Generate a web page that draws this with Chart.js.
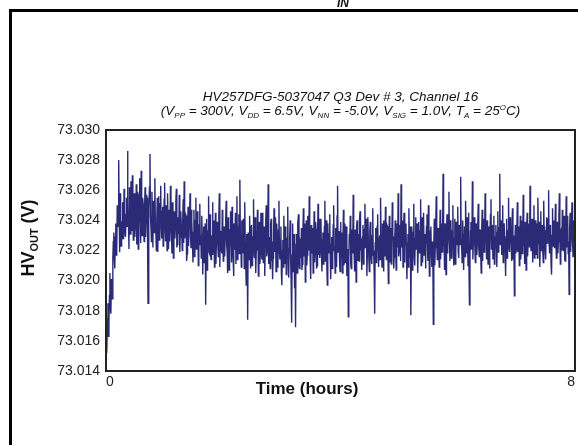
<!DOCTYPE html>
<html>
<head>
<meta charset="utf-8">
<script src="https://cdn.jsdelivr.net/npm/chart.js@4.4.1/dist/chart.umd.min.js"></script>
<style>
  body { margin: 0; background: #fff; }
  canvas { display: block; }
</style>
</head>
<body>
<canvas id="hvChart" width="578" height="445"></canvas>
<script>
// HV_OUT readings, one sample every 30 s over 8 hours (volts)
const hvOut = [
  73.0168, 73.0160, 73.0152, 73.0175, 73.0185, 73.0163, 73.0171, 73.0190, 73.0205, 73.0182, 73.0178, 73.0201, 73.0196, 73.0188, 73.0215, 73.0226, 73.0232, 73.0214, 73.0208, 73.0229,
  73.0238, 73.0217, 73.0221, 73.0250, 73.0245, 73.0236, 73.0280, 73.0242, 73.0219, 73.0258, 73.0241, 73.0223, 73.0226, 73.0239, 73.0252, 73.0228, 73.0233, 73.0261, 73.0247, 73.0231,
  73.0229, 73.0244, 73.0255, 73.0236, 73.0286, 73.0248, 73.0238, 73.0221, 73.0262, 73.0245, 73.0231, 73.0266, 73.0249, 73.0233, 73.0270, 73.0240, 73.0227, 73.0252, 73.0258, 73.0229,
  73.0236, 73.0247, 73.0264, 73.0224, 73.0243, 73.0259, 73.0221, 73.0238, 73.0257, 73.0268, 73.0239, 73.0225, 73.0273, 73.0244, 73.0230, 73.0255, 73.0251, 73.0234, 73.0226, 73.0249,
  73.0262, 73.0229, 73.0240, 73.0257, 73.0255, 73.0231, 73.0185, 73.0236, 73.0248, 73.0262, 73.0284, 73.0243, 73.0236, 73.0226, 73.0259, 73.0241, 73.0222, 73.0253, 73.0247, 73.0232,
  73.0268, 73.0238, 73.0233, 73.0220, 73.0241, 73.0255, 73.0219, 73.0244, 73.0256, 73.0227, 73.0237, 73.0251, 73.0263, 73.0235, 73.0228, 73.0246, 73.0249, 73.0223, 73.0232, 73.0254,
  73.0265, 73.0233, 73.0226, 73.0250, 73.0244, 73.0220, 73.0258, 73.0237, 73.0221, 73.0247, 73.0239, 73.0226, 73.0263, 73.0241, 73.0230, 73.0218, 73.0252, 73.0236, 73.0215, 73.0243,
  73.0246, 73.0228, 73.0235, 73.0253, 73.0261, 73.0222, 73.0224, 73.0240, 73.0242, 73.0231, 73.0257, 73.0219, 73.0229, 73.0246, 73.0238, 73.0234, 73.0220, 73.0239, 73.0254, 73.0225,
  73.0266, 73.0228, 73.0231, 73.0244, 73.0243, 73.0213, 73.0218, 73.0235, 73.0249, 73.0223, 73.0236, 73.0241, 73.0258, 73.0229, 73.0222, 73.0247, 73.0240, 73.0225, 73.0212, 73.0232,
  73.0247, 73.0216, 73.0233, 73.0240, 73.0255, 73.0221, 73.0227, 73.0246, 73.0238, 73.0210, 73.0219, 73.0237, 73.0251, 73.0224, 73.0230, 73.0215, 73.0243, 73.0231, 73.0204, 73.0227,
  73.0236, 73.0212, 73.0225, 73.0238, 73.0184, 73.0220, 73.0241, 73.0207, 73.0229, 73.0233, 73.0256, 73.0219, 73.0218, 73.0244, 73.0237, 73.0214, 73.0224, 73.0230, 73.0252, 73.0217,
  73.0231, 73.0240, 73.0209, 73.0226, 73.0245, 73.0211, 73.0226, 73.0235, 73.0239, 73.0222, 73.0216, 73.0243, 73.0258, 73.0209, 73.0233, 73.0228, 73.0221, 73.0218, 73.0247, 73.0230,
  73.0213, 73.0229, 73.0236, 73.0216, 73.0228, 73.0241, 73.0253, 73.0224, 73.0219, 73.0205, 73.0242, 73.0231, 73.0207, 73.0222, 73.0234, 73.0246, 73.0225, 73.0212, 73.0249, 73.0227,
  73.0216, 73.0203, 73.0238, 73.0221, 73.0229, 73.0245, 73.0211, 73.0233, 73.0256, 73.0214, 73.0223, 73.0236, 73.0244, 73.0218, 73.0267, 73.0230, 73.0227, 73.0209, 73.0240, 73.0225,
  73.0218, 73.0241, 73.0235, 73.0208, 73.0252, 73.0226, 73.0212, 73.0197, 73.0231, 73.0219, 73.0174, 73.0232, 73.0226, 73.0214, 73.0243, 73.0222, 73.0208, 73.0236, 73.0237, 73.0210,
  73.0221, 73.0229, 73.0254, 73.0217, 73.0215, 73.0242, 73.0233, 73.0205, 73.0226, 73.0220, 73.0247, 73.0231, 73.0203, 73.0224, 73.0239, 73.0211, 73.0218, 73.0245, 73.0230, 73.0214,
  73.0245, 73.0221, 73.0212, 73.0229, 73.0236, 73.0203, 73.0224, 73.0240, 73.0250, 73.0216, 73.0219, 73.0233, 73.0264, 73.0211, 73.0229, 73.0224, 73.0208, 73.0237, 73.0241, 73.0213,
  73.0226, 73.0201, 73.0215, 73.0230, 73.0248, 73.0219, 73.0232, 73.0242, 73.0206, 73.0225, 73.0238, 73.0209, 73.0221, 73.0234, 73.0253, 73.0218, 73.0214, 73.0227, 73.0236, 73.0205,
  73.0197, 73.0220, 73.0227, 73.0209, 73.0243, 73.0225, 73.0211, 73.0236, 73.0233, 73.0204, 73.0219, 73.0228, 73.0249, 73.0213, 73.0202, 73.0221, 73.0229, 73.0240, 73.0214, 73.0198,
  73.0172, 73.0217, 73.0238, 73.0206, 73.0223, 73.0231, 73.0195, 73.0214, 73.0169, 73.0224, 73.0231, 73.0205, 73.0216, 73.0238, 73.0244, 73.0212, 73.0208, 73.0227, 73.0226, 73.0215,
  73.0235, 73.0207, 73.0211, 73.0230, 73.0248, 73.0216, 73.0222, 73.0238, 73.0199, 73.0225, 73.0240, 73.0210, 73.0217, 73.0243, 73.0231, 73.0220, 73.0256, 73.0229, 73.0213, 73.0201,
  73.0237, 73.0218, 73.0224, 73.0235, 73.0205, 73.0222, 73.0246, 73.0212, 73.0219, 73.0239, 73.0234, 73.0208, 73.0210, 73.0226, 73.0251, 73.0217, 73.0227, 73.0241, 73.0215, 73.0223,
  73.0241, 73.0218, 73.0206, 73.0227, 73.0232, 73.0211, 73.0219, 73.0236, 73.0253, 73.0213, 73.0225, 73.0240, 73.0210, 73.0197, 73.0238, 73.0222, 73.0218, 73.0231, 73.0244, 73.0215,
  73.0201, 73.0224, 73.0229, 73.0208, 73.0216, 73.0237, 73.0250, 73.0220, 73.0223, 73.0205, 73.0235, 73.0226, 73.0209, 73.0243, 73.0263, 73.0219, 73.0228, 73.0233, 73.0214, 73.0206,
  73.0239, 73.0214, 73.0221, 73.0232, 73.0205, 73.0224, 73.0247, 73.0210, 73.0226, 73.0238, 73.0212, 73.0229, 73.0236, 73.0203, 73.0219, 73.0221, 73.0176, 73.0215, 73.0231, 73.0226,
  73.0243, 73.0211, 73.0208, 73.0234, 73.0225, 73.0218, 73.0257, 73.0229, 73.0217, 73.0206, 73.0234, 73.0224, 73.0199, 73.0236, 73.0240, 73.0213, 73.0222, 73.0231, 73.0213, 73.0240,
  73.0246, 73.0220, 73.0228, 73.0213, 73.0207, 73.0229, 73.0237, 73.0211, 73.0219, 73.0234, 73.0251, 73.0222, 73.0224, 73.0241, 73.0203, 73.0218, 73.0242, 73.0227, 73.0215, 73.0206,
  73.0233, 73.0239, 73.0226, 73.0214, 73.0211, 73.0230, 73.0248, 73.0217, 73.0220, 73.0203, 73.0178, 73.0225, 73.0235, 73.0212, 73.0217, 73.0236, 73.0244, 73.0221, 73.0209, 73.0228,
  73.0230, 73.0214, 73.0255, 73.0232, 73.0221, 73.0209, 73.0238, 73.0224, 73.0206, 73.0240, 73.0227, 73.0216, 73.0249, 73.0228, 73.0214, 73.0237, 73.0236, 73.0219, 73.0198, 73.0226,
  73.0243, 73.0212, 73.0224, 73.0235, 73.0211, 73.0221, 73.0252, 73.0230, 73.0229, 73.0208, 73.0216, 73.0227, 73.0240, 73.0219, 73.0207, 73.0238, 73.0233, 73.0222, 73.0258, 73.0216,
  73.0219, 73.0231, 73.0237, 73.0213, 73.0264, 73.0222, 73.0226, 73.0240, 73.0209, 73.0227, 73.0245, 73.0212, 73.0222, 73.0233, 73.0238, 73.0217, 73.0201, 73.0225, 73.0231, 73.0209,
  73.0248, 73.0226, 73.0215, 73.0236, 73.0177, 73.0220, 73.0236, 73.0207, 73.0223, 73.0232, 73.0251, 73.0216, 73.0210, 73.0228, 73.0242, 73.0221, 73.0227, 73.0238, 73.0205, 73.0219,
  73.0239, 73.0225, 73.0218, 73.0233, 73.0254, 73.0210, 73.0230, 73.0242, 73.0212, 73.0226, 73.0245, 73.0217, 73.0224, 73.0231, 73.0208, 73.0222, 73.0236, 73.0244, 73.0220, 73.0213,
  73.0250, 73.0227, 73.0203, 73.0219, 73.0233, 73.0236, 73.0217, 73.0209, 73.0226, 73.0218, 73.0171, 73.0223, 73.0241, 73.0210, 73.0222, 73.0237, 73.0256, 73.0226, 73.0214, 73.0231,
  73.0235, 73.0220, 73.0209, 73.0229, 73.0247, 73.0214, 73.0228, 73.0238, 73.0219, 73.0232, 73.0271, 73.0223, 73.0225, 73.0207, 73.0238, 73.0226, 73.0204, 73.0231, 73.0244, 73.0218,
  73.0221, 73.0236, 73.0259, 73.0227, 73.0213, 73.0240, 73.0237, 73.0215, 73.0226, 73.0233, 73.0250, 73.0221, 73.0210, 73.0228, 73.0241, 73.0211, 73.0218, 73.0239, 73.0233, 73.0224,
  73.0249, 73.0219, 73.0215, 73.0237, 73.0231, 73.0224, 73.0269, 73.0228, 73.0222, 73.0212, 73.0240, 73.0231, 73.0207, 73.0223, 73.0236, 73.0216, 73.0253, 73.0235, 73.0218, 73.0242,
  73.0229, 73.0210, 73.0245, 73.0221, 73.0184, 73.0218, 73.0233, 73.0239, 73.0221, 73.0226, 73.0266, 73.0214, 73.0226, 73.0234, 73.0242, 73.0222, 73.0212, 73.0230, 73.0238, 73.0217,
  73.0224, 73.0238, 73.0251, 73.0222, 73.0216, 73.0230, 73.0234, 73.0218, 73.0205, 73.0233, 73.0247, 73.0213, 73.0229, 73.0241, 73.0219, 73.0226, 73.0258, 73.0235, 73.0225, 73.0214,
  73.0240, 73.0228, 73.0211, 73.0232, 73.0236, 73.0208, 73.0222, 73.0244, 73.0254, 73.0221, 73.0231, 73.0237, 73.0214, 73.0225, 73.0243, 73.0211, 73.0220, 73.0229, 73.0237, 73.0223,
  73.0209, 73.0232, 73.0246, 73.0219, 73.0228, 73.0235, 73.0271, 73.0224, 73.0233, 73.0240, 73.0217, 73.0226, 73.0250, 73.0212, 73.0224, 73.0238, 73.0238, 73.0218, 73.0203, 73.0229,
  73.0241, 73.0215, 73.0226, 73.0233, 73.0255, 73.0221, 73.0219, 73.0242, 73.0234, 73.0227, 73.0213, 73.0231, 73.0248, 73.0214, 73.0230, 73.0222, 73.0190, 73.0226, 73.0237, 73.0218,
  73.0221, 73.0234, 73.0252, 73.0219, 73.0228, 73.0236, 73.0210, 73.0225, 73.0243, 73.0214, 73.0232, 73.0240, 73.0218, 73.0229, 73.0257, 73.0223, 73.0226, 73.0211, 73.0239, 73.0228,
  73.0207, 73.0234, 73.0245, 73.0216, 73.0224, 73.0238, 73.0236, 73.0222, 73.0263, 73.0227, 73.0220, 73.0233, 73.0241, 73.0219, 73.0212, 73.0236, 73.0250, 73.0215, 73.0229, 73.0240,
  73.0217, 73.0229, 73.0238, 73.0215, 73.0255, 73.0231, 73.0224, 73.0239, 73.0209, 73.0226, 73.0246, 73.0220, 73.0231, 73.0237, 73.0220, 73.0212, 73.0253, 73.0228, 73.0236, 73.0219,
  73.0214, 73.0233, 73.0242, 73.0225, 73.0227, 73.0241, 73.0260, 73.0224, 73.0218, 73.0237, 73.0235, 73.0211, 73.0204, 73.0230, 73.0248, 73.0223, 73.0229, 73.0240, 73.0222, 73.0234,
  73.0251, 73.0224, 73.0215, 73.0236, 73.0239, 73.0218, 73.0226, 73.0242, 73.0258, 73.0229, 73.0211, 73.0233, 73.0234, 73.0220, 73.0247, 73.0227, 73.0220, 73.0238, 73.0243, 73.0214,
  73.0213, 73.0230, 73.0256, 73.0222, 73.0232, 73.0243, 73.0218, 73.0226, 73.0191, 73.0235, 73.0245, 73.0219, 73.0228, 73.0241, 73.0252, 73.0225, 73.0216, 73.0233, 73.0240, 73.0221, 73.0231
];
// sample time of each reading, in hours
const sampleHours = hvOut.map((_, i) => i / 120);

const yTicks = [73.014, 73.016, 73.018, 73.020, 73.022, 73.024, 73.026, 73.028, 73.030];
const xTicks = [0, 8];

const titleLine1 = [{ t: 'HV257DFG-5037047 Q3 Dev # 3, Channel 16' }];
const titleLine2 = [
  { t: '(V' }, { t: 'PP', sub: true }, { t: ' = 300V, V' }, { t: 'DD', sub: true },
  { t: ' = 6.5V, V' }, { t: 'NN', sub: true }, { t: ' = -5.0V, V' }, { t: 'SIG', sub: true },
  { t: ' = 1.0V, T' }, { t: 'A', sub: true }, { t: ' = 25' }, { t: 'O', sup: true }, { t: 'C)' }
];
const yTitle = [{ t: 'HV' }, { t: 'OUT', sub: true }, { t: ' (V)' }];
const xTitle = 'Time (hours)';

const FONT = '"Liberation Sans", Arial, sans-serif';

// draws a run of text with sub/superscripts, centred on cx
function drawRich(ctx, parts, cx, baseY, size, style) {
  const subSize = Math.round(size * 0.6);
  let total = 0;
  parts.forEach(p => {
    ctx.font = `${style} ${p.sub || p.sup ? subSize : size}px ${FONT}`;
    p.w = ctx.measureText(p.t).width;
    total += p.w;
  });
  let x = cx - total / 2;
  ctx.textAlign = 'left';
  ctx.textBaseline = 'alphabetic';
  parts.forEach(p => {
    ctx.font = `${style} ${p.sub || p.sup ? subSize : size}px ${FONT}`;
    let y = baseY;
    if (p.sub) y += size * 0.22;
    if (p.sup) y -= size * 0.38;
    ctx.fillText(p.t, x, y);
    x += p.w;
  });
}

const decorPlugin = {
  id: 'decor',
  beforeDraw(chart) {
    const ctx = chart.ctx;
    ctx.save();
    ctx.fillStyle = '#fff';
    ctx.fillRect(0, 0, chart.width, chart.height);
    ctx.restore();
  },
  afterDraw(chart) {
    const ctx = chart.ctx;
    const a = chart.chartArea;
    ctx.save();
    // plot frame
    ctx.strokeStyle = '#222';
    ctx.lineWidth = 2;
    ctx.strokeRect(a.left, a.top, a.right - a.left, a.bottom - a.top);
    // outer figure box
    ctx.strokeStyle = '#000';
    ctx.lineWidth = 3;
    ctx.strokeRect(10.5, 10.5, 700, 600);

    ctx.fillStyle = '#111';
    const cx = (a.left + a.right) / 2;
    drawRich(ctx, titleLine1, cx, 101, 13.5, 'italic');
    drawRich(ctx, titleLine2, cx, 115, 13.5, 'italic');

    // x axis title
    ctx.font = `bold 17px ${FONT}`;
    ctx.textAlign = 'center';
    ctx.textBaseline = 'alphabetic';
    ctx.fillText(xTitle, 307, 394);

    // y axis title
    ctx.save();
    ctx.translate(34, 238);
    ctx.rotate(-Math.PI / 2);
    drawRich(ctx, yTitle, 0, 0, 18, 'bold');
    ctx.restore();

    // cut-off caption fragment at the top edge
    ctx.font = `italic bold 12px ${FONT}`;
    ctx.textAlign = 'left';
    ctx.fillText('IN', 337, 7);
    ctx.restore();
  }
};

new Chart(document.getElementById('hvChart'), {
  type: 'line',
  data: {
    datasets: [{
      data: hvOut.map((v, i) => ({ x: sampleHours[i], y: v })),
      borderColor: '#2b2a76',
      borderWidth: 1.4,
      pointRadius: 0,
      tension: 0,
      fill: false
    }]
  },
  options: {
    responsive: false,
    animation: false,
    layout: { padding: { top: 130, right: 2, left: 0, bottom: 0 } },
    plugins: { legend: { display: false }, tooltip: { enabled: false } },
    scales: {
      x: {
        type: 'linear',
        min: 0,
        max: 8,
        grid: { display: false, drawTicks: false },
        border: { display: false },
        afterBuildTicks: s => { s.ticks = xTicks.map(v => ({ value: v })); },
        afterFit: s => { s.height = 74; },
        ticks: {
          color: '#222',
          font: { size: 14, family: FONT },
          padding: 3,
          align: 'inner',
          maxRotation: 0,
          callback: v => String(v)
        }
      },
      y: {
        min: 73.014,
        max: 73.030,
        grid: { display: false, drawTicks: false },
        border: { display: false },
        afterBuildTicks: s => { s.ticks = yTicks.map(v => ({ value: v })); },
        afterFit: s => { s.width = 106; },
        ticks: {
          color: '#222',
          font: { size: 14, family: FONT },
          padding: 6,
          callback: v => Number(v).toFixed(3)
        }
      }
    }
  },
  plugins: [decorPlugin]
});
</script>
</body>
</html>
